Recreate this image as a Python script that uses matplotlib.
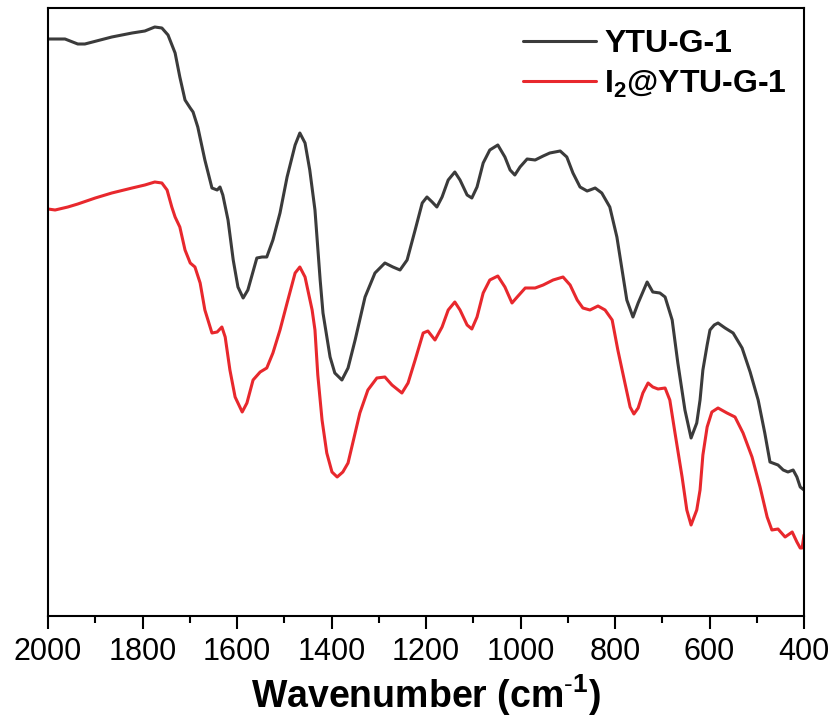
import numpy as np
import matplotlib
matplotlib.use("Agg")
import matplotlib.pyplot as plt
from matplotlib.ticker import MultipleLocator

plt.rcParams['font.family'] = ['Liberation Sans', 'DejaVu Sans']
plt.rcParams['mathtext.fontset'] = 'custom'
plt.rcParams['mathtext.rm'] = 'Liberation Sans'
plt.rcParams['mathtext.bf'] = 'Liberation Sans:bold'

# FTIR spectra, wavenumber (cm-1) vs transmittance (a.u.)
wn_ytu = [2000, 1964, 1937, 1922, 1865, 1822, 1795, 1774, 1759, 1746, 1731, 1721, 1710,
          1699, 1693, 1683, 1668, 1653, 1642, 1636, 1630, 1619, 1608, 1598, 1587, 1577,
          1558, 1547, 1537, 1524, 1509, 1494, 1477, 1467, 1456, 1446, 1435, 1424, 1418,
          1403, 1393, 1378, 1365, 1350, 1329, 1308, 1287, 1270, 1255, 1240, 1223, 1208,
          1198, 1187, 1177, 1166, 1153, 1139, 1128, 1113, 1103, 1092, 1079, 1065, 1048,
          1033, 1022, 1012, 1001, 986, 969, 952, 938, 916, 902, 889, 874, 859, 853, 842,
          828, 811, 796, 785, 775, 762, 751, 732, 720, 705, 694, 679, 667, 652, 639, 627,
          620, 614, 605, 599, 590, 582, 567, 550, 531, 514, 497, 483, 472, 455, 444, 434,
          423, 415, 408, 400]
t_ytu = [57.7, 57.7, 57.2, 57.2, 57.9, 58.3, 58.5, 58.9, 58.8, 58.1, 56.3, 53.9, 51.6,
         50.8, 50.4, 48.9, 45.6, 42.8, 42.6, 42.9, 42.1, 39.6, 35.6, 32.9, 31.8, 32.6,
         35.8, 35.9, 35.9, 37.6, 40.3, 43.9, 47.1, 48.3, 47.3, 44.6, 40.6, 33.6, 30.3,
         25.9, 24.3, 23.6, 24.8, 27.6, 31.9, 34.3, 35.3, 34.9, 34.6, 35.6, 38.6, 41.3,
         41.9, 41.4, 40.9, 41.9, 43.6, 44.4, 43.6, 42.1, 41.8, 42.9, 45.3, 46.6, 47.1,
         45.9, 44.6, 44.1, 44.9, 45.7, 45.6, 46.0, 46.3, 46.5, 45.9, 44.3, 42.9, 42.5,
         42.6, 42.8, 42.3, 40.9, 37.9, 34.6, 31.6, 29.9, 31.3, 33.4, 32.4, 32.3, 31.9,
         29.6, 25.3, 20.6, 17.8, 19.3, 21.6, 24.6, 27.1, 28.6, 29.1, 29.3, 28.8, 28.3,
         26.8, 24.4, 21.6, 18.3, 15.4, 15.1, 14.6, 14.4, 14.6, 13.9, 12.9, 12.6]

wn_i2 = [2000, 1985, 1958, 1937, 1900, 1865, 1822, 1795, 1774, 1759, 1748, 1738, 1731,
         1721, 1710, 1699, 1689, 1678, 1668, 1653, 1642, 1632, 1625, 1615, 1604, 1589,
         1579, 1566, 1551, 1537, 1524, 1509, 1494, 1477, 1467, 1456, 1441, 1435, 1429,
         1420, 1410, 1399, 1388, 1376, 1365, 1355, 1340, 1323, 1304, 1287, 1272, 1251,
         1238, 1223, 1206, 1196, 1181, 1166, 1153, 1139, 1128, 1113, 1103, 1092, 1079,
         1065, 1048, 1033, 1018, 1007, 990, 969, 952, 931, 910, 895, 880, 868, 853, 836,
         821, 806, 794, 779, 768, 760, 751, 741, 730, 720, 709, 694, 684, 673, 658, 648,
         639, 627, 620, 614, 605, 595, 582, 563, 546, 529, 510, 493, 478, 468, 455, 440,
         425, 415, 408, 404, 400]
t_i2 = [40.7, 40.6, 40.9, 41.2, 41.8, 42.3, 42.8, 43.1, 43.4, 43.3, 42.6, 40.9, 39.9,
        38.9, 36.6, 35.3, 34.9, 33.3, 30.6, 28.3, 28.4, 28.9, 27.9, 24.6, 21.9, 20.4,
        21.3, 23.6, 24.4, 24.8, 26.3, 28.6, 31.3, 34.3, 34.9, 33.9, 30.6, 28.6, 24.1,
        19.6, 16.3, 14.4, 13.9, 14.4, 15.3, 17.3, 20.3, 22.6, 23.8, 23.9, 23.1, 22.3,
        23.3, 25.6, 28.3, 28.5, 27.6, 28.9, 30.6, 31.4, 30.6, 29.1, 28.7, 29.9, 32.3,
        33.6, 34.0, 32.9, 31.3, 31.9, 32.8, 32.8, 33.1, 33.6, 33.9, 33.1, 31.6, 30.8,
        30.6, 31.0, 30.6, 29.6, 26.6, 23.3, 20.9, 20.2, 20.8, 22.3, 23.3, 22.9, 22.7,
        22.8, 21.6, 18.3, 13.9, 10.6, 9.1, 10.6, 12.6, 16.1, 18.9, 20.4, 20.8, 20.3,
        19.9, 18.3, 15.9, 12.9, 9.9, 8.6, 8.7, 7.9, 8.4, 7.4, 6.8, 6.8, 8.1]

labels = ["YTU-G-1", r"I$_\mathbf{2}$@YTU-G-1"]
colors = ["#3b3b3b", "#e8282d"]

fig = plt.figure(figsize=(8.35, 7.24), dpi=100)
ax = fig.add_axes([48/835, 1 - 616/724, (804 - 48)/835, (616 - 8)/724])

ax.plot(wn_ytu, t_ytu, color=colors[0], lw=2.2, label=labels[0],
        solid_joinstyle='round', solid_capstyle='round')
ax.plot(wn_i2, t_i2, color=colors[1], lw=2.2, label=labels[1],
        solid_joinstyle='round', solid_capstyle='round')

ax.set_xlim(2000, 400)
ax.set_ylim(0, 60.8)
ax.xaxis.set_major_locator(MultipleLocator(200))
ax.xaxis.set_minor_locator(MultipleLocator(100))
ax.set_yticks([])
ax.tick_params(axis='x', which='major', direction='out', length=9, width=1.5,
               labelsize=22, pad=6)
ax.tick_params(axis='x', which='minor', direction='out', length=5, width=1.5)
for s in ax.spines.values():
    s.set_linewidth(1.5)

ax.set_xlabel(r"Wavenumber (cm$^{\mathbf{\text{-}1}}$)", fontsize=27,
              fontweight='bold', labelpad=4)

leg = ax.legend(loc='upper left', bbox_to_anchor=(523/835, 1 - 29/724),
                bbox_transform=fig.transFigure, frameon=False, borderpad=0,
                borderaxespad=0, handlelength=2.3, handletextpad=0.25,
                labelspacing=0.3, prop={'size': 23, 'weight': 'bold'})

fig.savefig("out.png", dpi=100)
